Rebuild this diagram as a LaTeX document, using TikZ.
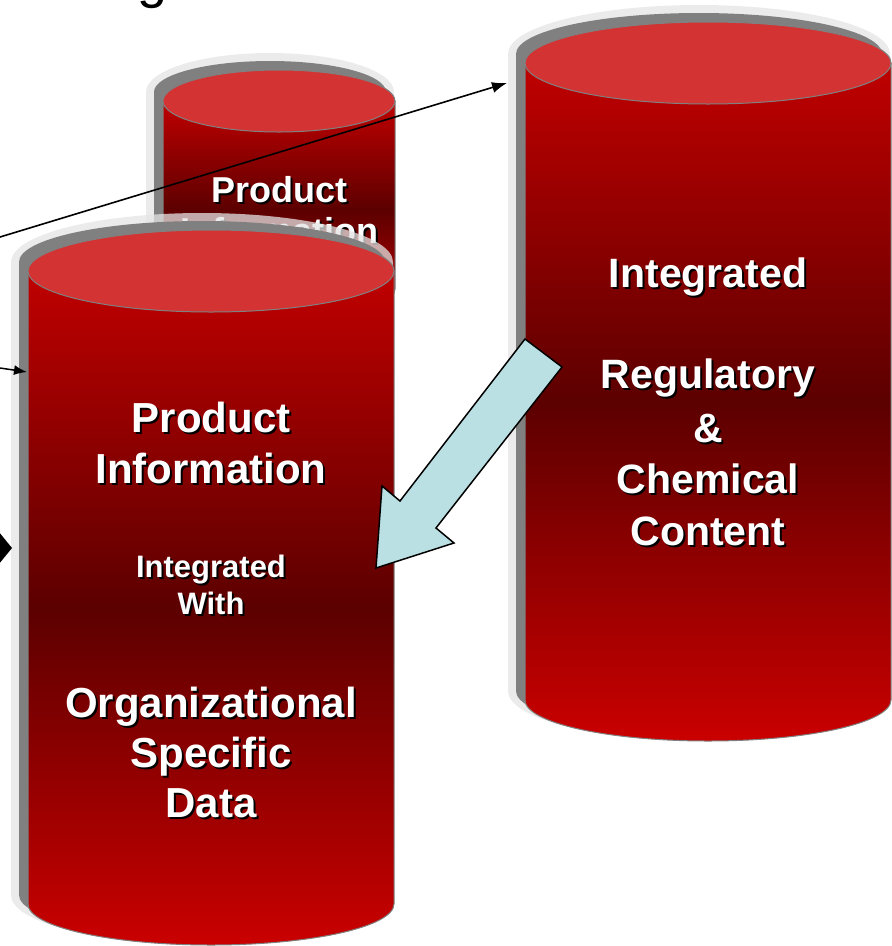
\documentclass[tikz,border=0pt]{standalone}
\usepackage{fontspec}
\setmainfont{Liberation Sans}
\usetikzlibrary{arrows.meta,calc}

\definecolor{dbred}{RGB}{192,0,0}
\definecolor{dbdark}{RGB}{92,0,0}
\definecolor{dbbottom}{RGB}{202,0,0}
\definecolor{dblid}{RGB}{211,51,51}
\definecolor{dbedge}{RGB}{128,128,128}
\definecolor{dbhalo}{RGB}{228,228,228}
\definecolor{flowblue}{RGB}{187,224,227}

\tikzset{
  halo/.style={fill=dbhalo, fill opacity=0.75},
  drop/.style={fill=dbedge},
  body/.style={draw=dbedge, line width=1pt, top color=dbred, bottom color=dbbottom, middle color=dbdark},
  lid/.style={draw=dbedge, line width=1pt, fill=dblid},
  link/.style={line width=1.6pt, -{Latex[length=15pt,width=11pt]}},
  flow/.style={fill=flowblue, draw=black, line width=1.5pt},
  lbl/.style={anchor=base, inner sep=0pt, text=white},
  lblshadow/.style={anchor=base, inner sep=0pt, text=black},
}

% cylinder: name, cx, top y, bottom y, x radius, y radius
\newcommand{\dbcylinder}[6]{%
  \pgfmathsetmacro{\cylhrx}{#5+8}\pgfmathsetmacro{\cylhry}{#6+8}
  \path[halo] (#2-9-\cylhrx,#3-9) arc[start angle=180, end angle=360, x radius=\cylhrx, y radius=\cylhry]
    -- (#2-9+\cylhrx,#4-9) arc[start angle=0, end angle=180, x radius=\cylhrx, y radius=\cylhry] -- cycle;
  \path[drop] (#2-9-#5,#3-9) arc[start angle=180, end angle=360, x radius=#5, y radius=#6]
    -- (#2-9+#5,#4-9) arc[start angle=0, end angle=180, x radius=#5, y radius=#6] -- cycle;
  \path[body] (#2-#5,#3) -- (#2-#5,#4) arc[start angle=180, end angle=0, x radius=#5, y radius=#6]
    -- (#2+#5,#3) -- cycle;
  \path[lid] (#2,#3) ellipse[x radius=#5, y radius=#6];
  \coordinate (#1) at (#2,#3);
}

% white text with black drop shadow: name, x, baseline y, size, text
\newcommand{\embossed}[5]{%
  \node[lblshadow, font=\bfseries\fontsize{#4}{#4}\selectfont] (#1-sh) at (#2+2,#3+2) {#5};
  \node[lbl, font=\bfseries\fontsize{#4}{#4}\selectfont] (#1) at (#2,#3) {#5};
}

\begin{document}
\begin{tikzpicture}[x=1pt, y=-1pt]
  \useasboundingbox (0,0) rectangle (892,946);
  \clip (0,0) rectangle (892,946);

  % title fragment cut by the top edge
  \node[anchor=base west, inner sep=0pt, font=\fontsize{54}{54}\selectfont] (title) at (137,-3) {g};

  % back store
  \dbcylinder{back}{279}{101}{289}{116}{31}
  \foreach \w/\y [count=\i] in {Product/202, Information/243}
    \embossed{back-\i}{279}{\y}{36}{\w};

  \coordinate (lnk1) at (0,237);
  \coordinate (right-in) at (507,83);
  \draw[link] (lnk1) -- (right-in);

  % front store
  \dbcylinder{front}{211}{271}{904}{183}{41}
  \foreach \w/\y [count=\i] in {Product/432, Information/483}
    \embossed{front-a\i}{211}{\y}{42}{\w};
  \foreach \w/\y [count=\i] in {Integrated/577, With/614}
    \embossed{front-b\i}{211}{\y}{31}{\w};
  \foreach \w/\y [count=\i] in {Organizational/717, Specific/767, Data/817}
    \embossed{front-c\i}{211}{\y}{42}{\w};

  % right store
  \dbcylinder{right}{708}{63}{700}{183}{41}
  \foreach \w/\y [count=\i] in {Integrated/287, Regulatory/388, \&/442, Chemical/493, Content/545}
    \embossed{right-\i}{708}{\y}{41}{\w};

  % incoming links
  \coordinate (lnk2) at (0,368);
  \coordinate (front-in) at (27,372);
  \draw[line width=1.5pt, -{Latex[length=13pt,width=10pt]}] (lnk2) -- (front-in);
  \coordinate (lnk3) at (-20,548);
  \coordinate (front-in2) at (12,548);
  \draw[line width=2pt, -{Triangle[length=12pt,width=29pt]}] (lnk3) -- (front-in2);

  % block arrow from right store into front store
  \filldraw[flow] (525,339) -- (562,367) -- (436,528) -- (454,543) -- (376,568)
    -- (382,486) -- (400,501) -- cycle;
\end{tikzpicture}
\end{document}
